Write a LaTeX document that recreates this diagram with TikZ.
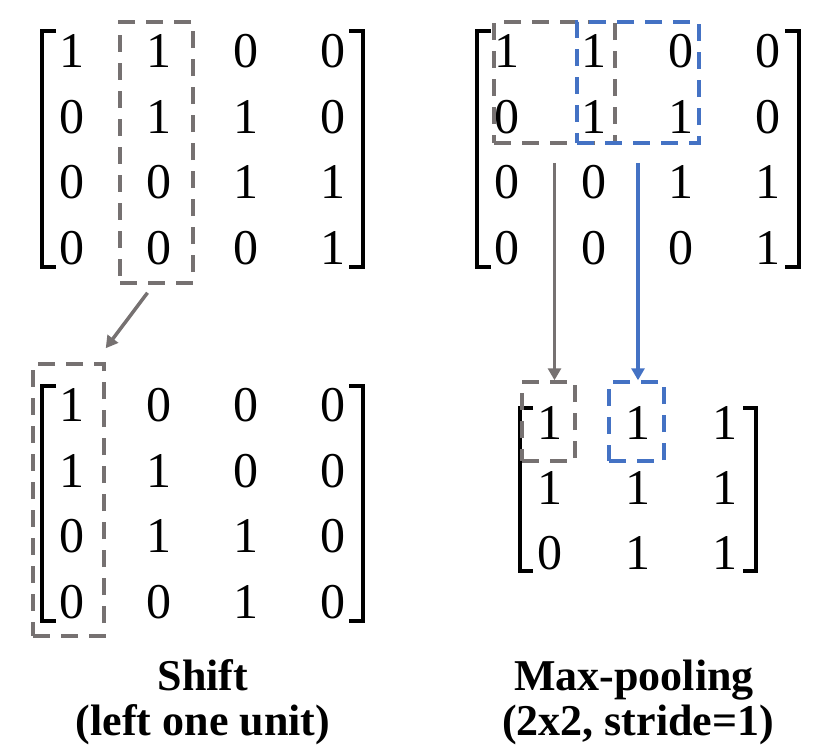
\documentclass[tikz,border=0pt]{standalone}
\usepackage{fontspec}
\newfontfamily\labfont{Liberation Serif}
\newfontfamily\numfont{Liberation Serif}
\usetikzlibrary{arrows.meta}
\definecolor{boxgray}{HTML}{767171}
\definecolor{boxblue}{HTML}{4472C4}
\begin{document}
\begin{tikzpicture}[x=1pt,y=-1pt,
  num/.style={font=\numfont\fontsize{50}{50}\selectfont, inner sep=0pt},
  brk/.style={line width=3.8pt, line cap=butt},
  gbox/.style={draw=boxgray, line width=3.5pt, dash pattern=on 17pt off 11pt, inner sep=0pt},
  bbox/.style={draw=boxblue, line width=3.5pt, dash pattern=on 17pt off 11pt, inner sep=0pt},
  garrow/.style={draw=boxgray, line width=3.5pt, -{Triangle[width=13pt,length=12pt]}},
  barrow/.style={draw=boxblue, line width=3.5pt, -{Triangle[width=13pt,length=12pt]}},
  lab/.style={font=\labfont\bfseries\fontsize{44}{45}\selectfont, align=center, inner sep=0pt}
]
\useasboundingbox (0,0) rectangle (830,750);

% ---------- top-left matrix ----------
\foreach [count=\r] \row in {{1,1,0,0},{0,1,1,0},{0,0,1,1},{0,0,0,1}} {
  \foreach [count=\c] \v in \row {
    \pgfmathsetmacro\xx{72+(\c-1)*87}
    \pgfmathsetmacro\yy{51+(\r-1)*65.7}
    \node[num] (A-\r-\c) at (\xx,\yy) {\v};
  }
}
\draw[brk] (56,31) -- (42,31) -- (42,267) -- (56,267);
\draw[brk] (349,31) -- (363,31) -- (363,267) -- (349,267);

% ---------- top-right matrix ----------
\foreach [count=\r] \row in {{1,1,0,0},{0,1,1,0},{0,0,1,1},{0,0,0,1}} {
  \foreach [count=\c] \v in \row {
    \pgfmathsetmacro\xx{507+(\c-1)*87}
    \pgfmathsetmacro\yy{51+(\r-1)*65.7}
    \node[num] (B-\r-\c) at (\xx,\yy) {\v};
  }
}
\draw[brk] (491,31) -- (477,31) -- (477,267) -- (491,267);
\draw[brk] (785,31) -- (799,31) -- (799,267) -- (785,267);

% ---------- bottom-left matrix ----------
\foreach [count=\r] \row in {{1,0,0,0},{1,1,0,0},{0,1,1,0},{0,0,1,0}} {
  \foreach [count=\c] \v in \row {
    \pgfmathsetmacro\xx{72+(\c-1)*87}
    \pgfmathsetmacro\yy{405+(\r-1)*65.7}
    \node[num] (C-\r-\c) at (\xx,\yy) {\v};
  }
}
\draw[brk] (56,386) -- (42,386) -- (42,621) -- (56,621);
\draw[brk] (349,386) -- (363,386) -- (363,621) -- (349,621);

% ---------- bottom-right matrix ----------
\foreach [count=\r] \row in {{1,1,1},{1,1,1},{0,1,1}} {
  \foreach [count=\c] \v in \row {
    \pgfmathsetmacro\xx{550+(\c-1)*87.5}
    \pgfmathsetmacro\yy{423+(\r-1)*65}
    \node[num] (D-\r-\c) at (\xx,\yy) {\v};
  }
}
\draw[brk] (533,408) -- (520,408) -- (520,571) -- (533,571);
\draw[brk] (743,408) -- (756,408) -- (756,571) -- (743,571);

% ---------- dashed boxes ----------
\node[gbox, minimum width=73pt, minimum height=261pt] (g1) at (156.5,152.5) {};
\node[gbox, minimum width=121pt, minimum height=121pt] (g2) at (554.5,82.5) {};
\node[bbox, minimum width=122pt, minimum height=121pt] (b2) at (638,82.5) {};
\node[gbox, minimum width=71pt, minimum height=272pt] (g3) at (68.5,500) {};
\node[gbox, minimum width=53pt, minimum height=79pt] (g4) at (548.5,421.5) {};
\node[bbox, minimum width=55pt, minimum height=79pt] (b4) at (636.5,421.5) {};

% ---------- arrows ----------
\draw[garrow] ([xshift=-9pt,yshift=-8pt]g1.south) -- ([yshift=14pt]g3.north east);
\draw[garrow] ([yshift=-18pt]g2.south) -- (g2.south |- g4.north);
\draw[barrow] ([yshift=-18pt]b2.south) -- (b2.south |- b4.north);

% ---------- labels ----------
\node[lab, anchor=base] (l1) at (203,690) {Shift};
\node[lab, anchor=base] (l1b) at (203,735) {(left one unit)};
\node[lab, anchor=base] (l2) at (634,690) {Max-pooling};
\node[lab, anchor=base] (l2b) at (638,735) {(2x2, stride=1)};
\end{tikzpicture}
\end{document}
